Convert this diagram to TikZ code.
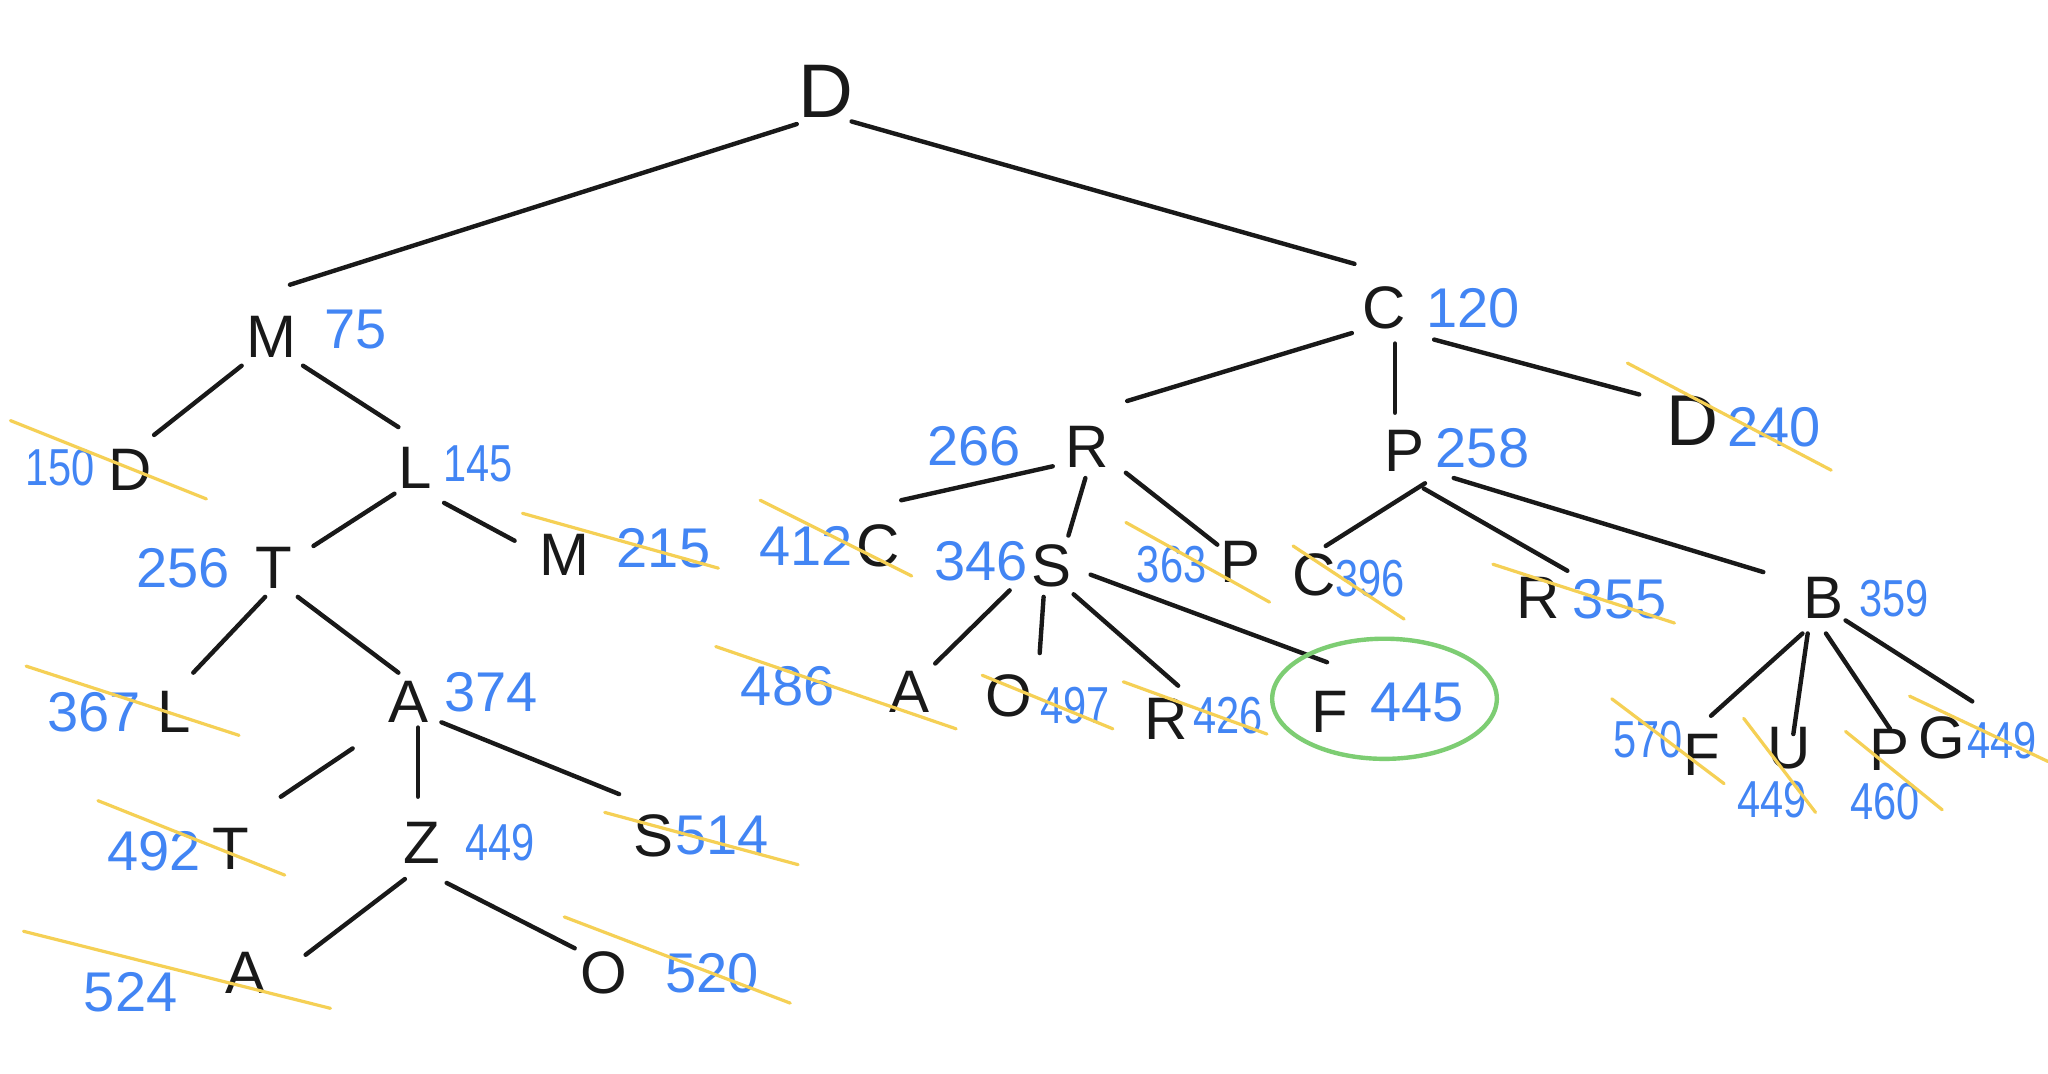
\documentclass[tikz,border=0pt]{standalone}
\usepackage{fontspec}
\setmainfont{Liberation Sans}
\newfontfamily\narrownum[FakeStretch=0.8]{Liberation Sans}
\definecolor{numblue}{RGB}{66,133,244}
\definecolor{strike}{RGB}{245,208,85}
\definecolor{circ}{RGB}{125,205,115}
\begin{document}
\begin{tikzpicture}[x=0.3266pt,y=-0.3266pt,
  let/.style={inner sep=0pt,font=\fontsize{15}{15}\selectfont,text=black!90},
  num/.style={inner sep=0pt,font=\fontsize{14}{14}\selectfont,text=numblue},
  smallnum/.style={inner sep=0pt,font=\narrownum\fontsize{13}{13}\selectfont,text=numblue},
  edge/.style={line width=1.1pt,black!90,line cap=round},
  cross/.style={line width=0.8pt,strike,line cap=round}]
\useasboundingbox (0,0) rectangle (1568,822);
\fill[white] (0,0) rectangle (1568,822);
% letters
\node[let] (D0) at (632,70) {\fontsize{19}{19}\selectfont D};
\node[let] (M1) at (208,258) {M};
\node[let] (C1) at (1060,236) {C};
\node[let] (D2) at (100,360) {D};
\node[let] (L2) at (318,358) {L};
\node[let] (R2) at (832,342) {R};
\node[let] (P2) at (1075,345) {P};
\node[let] (D2r) at (1296,322) {\fontsize{18}{18}\selectfont D};
\node[let] (T3) at (210,435) {T};
\node[let] (M3) at (432,425) {M};
\node[let] (C3) at (672,418) {C};
\node[let] (S3) at (805,433) {S};
\node[let] (P3) at (950,430) {P};
\node[let] (C3b) at (1006,440) {C};
\node[let] (R3) at (1178,458) {R};
\node[let] (B3) at (1396,458) {B};
\node[let] (L4) at (133,545) {L};
\node[let] (A4) at (313,537) {A};
\node[let] (A4s) at (696,530) {A};
\node[let] (O4) at (772,533) {O};
\node[let] (R4) at (893,550) {R};
\node[let] (F4) at (1018,545) {F};
\node[let] (F4b) at (1303,578) {F};
\node[let] (U4) at (1370,573) {U};
\node[let] (P4) at (1447,574) {P};
\node[let] (G4) at (1487,565) {G};
\node[let] (T5) at (177,650) {T};
\node[let] (Z5) at (323,645) {Z};
\node[let] (S5) at (500,640) {S};
\node[let] (A6) at (188,745) {A};
\node[let] (O6) at (462,745) {O};
% numbers
\node[num] (n75) at (272,252) {75};
\node[num] (n120) at (1128,236) {120};
\node[smallnum] (n150) at (46,358) {150};
\node[smallnum] (n145) at (366,355) {145};
\node[num] (n266) at (746,342) {266};
\node[num] (n258) at (1135,343) {258};
\node[num] (n240) at (1358,327) {240};
\node[num] (n256) at (140,435) {256};
\node[num] (n215) at (508,420) {215};
\node[num] (n412) at (617,418) {412};
\node[num] (n346) at (751,430) {346};
\node[smallnum] (n363) at (897,432) {363};
\node[smallnum] (n396) at (1049,443) {396};
\node[num] (n355) at (1240,459) {355};
\node[smallnum] (n359) at (1450,458) {359};
\node[num] (n367) at (72,545) {367};
\node[num] (n374) at (376,530) {374};
\node[num] (n486) at (603,525) {486};
\node[smallnum] (n497) at (823,540) {497};
\node[smallnum] (n426) at (940,548) {426};
\node[num] (n445) at (1085,538) {445};
\node[smallnum] (n570) at (1262,566) {570};
\node[smallnum] (n449u) at (1357,612) {449};
\node[smallnum] (n460) at (1443,614) {460};
\node[smallnum] (n449g) at (1533,567) {449};
\node[num] (n492) at (118,652) {492};
\node[smallnum] (n449z) at (383,645) {449};
\node[num] (n514) at (553,640) {514};
\node[num] (n524) at (100,760) {524};
\node[num] (n520) at (545,745) {520};
% edges
\draw[edge] ([shift={(-22,25)}]D0.center) -- ([shift={(14,-40)}]M1.center);
\draw[edge] ([shift={(20,23)}]D0.center) -- ([shift={(-23,-34)}]C1.center);
\draw[edge] ([shift={(-23,22)}]M1.center) -- ([shift={(18,-27)}]D2.center);
\draw[edge] ([shift={(24,22)}]M1.center) -- ([shift={(-13,-31)}]L2.center);
\draw[edge] ([shift={(-16,20)}]L2.center) -- ([shift={(30,-17)}]T3.center);
\draw[edge] ([shift={(22,27)}]L2.center) -- ([shift={(-38,-11)}]M3.center);
\draw[edge] ([shift={(-7,22)}]T3.center) -- ([shift={(15,-30)}]L4.center);
\draw[edge] ([shift={(18,22)}]T3.center) -- ([shift={(-8,-22)}]A4.center);
\draw[edge] ([shift={(-43,36)}]A4.center) -- ([shift={(38,-40)}]T5.center);
\draw[edge] ([shift={(7,20)}]A4.center) -- ([shift={(-3,-35)}]Z5.center);
\draw[edge] ([shift={(25,16)}]A4.center) -- ([shift={(-26,-32)}]S5.center);
\draw[edge] ([shift={(-13,28)}]Z5.center) -- ([shift={(46,-14)}]A6.center);
\draw[edge] ([shift={(19,31)}]Z5.center) -- ([shift={(-22,-19)}]O6.center);
\draw[edge] ([shift={(-25,19)}]C1.center) -- ([shift={(31,-35)}]R2.center);
\draw[edge] ([shift={(8,27)}]C1.center) -- ([shift={(-7,-29)}]P2.center);
\draw[edge] ([shift={(38,24)}]C1.center) -- ([shift={(-41,-20)}]D2r.center);
\draw[edge] ([shift={(-26,15)}]R2.center) -- ([shift={(18,-35)}]C3.center);
\draw[edge] ([shift={(-1,24)}]R2.center) -- ([shift={(13,-23)}]S3.center);
\draw[edge] ([shift={(30,20)}]R2.center) -- ([shift={(-18,-13)}]P3.center);
\draw[edge] ([shift={(-32,19)}]S3.center) -- ([shift={(20,-22)}]A4s.center);
\draw[edge] ([shift={(-6,24)}]S3.center) -- ([shift={(24,-33)}]O4.center);
\draw[edge] ([shift={(17,22)}]S3.center) -- ([shift={(9,-25)}]R4.center);
\draw[edge] ([shift={(30,7)}]S3.center) -- ([shift={(-2,-38)}]F4.center);
\draw[edge] ([shift={(16,25)}]P2.center) -- ([shift={(9,-22)}]C3b.center);
\draw[edge] ([shift={(15,29)}]P2.center) -- ([shift={(22,-21)}]R3.center);
\draw[edge] ([shift={(38,21)}]P2.center) -- ([shift={(-46,-20)}]B3.center);
\draw[edge] ([shift={(-16,27)}]B3.center) -- ([shift={(7,-30)}]F4b.center);
\draw[edge] ([shift={(-12,27)}]B3.center) -- ([shift={(3,-11)}]U4.center);
\draw[edge] ([shift={(2,27)}]B3.center) -- ([shift={(0,-16)}]P4.center);
\draw[edge] ([shift={(17,17)}]B3.center) -- ([shift={(23,-28)}]G4.center);
% strike-through lines
\draw[cross] (8,322) -- (158,382);
\draw[cross] (400,393) -- (550,435);
\draw[cross] (582,383) -- (698,441);
\draw[cross] (862,400) -- (972,461);
\draw[cross] (990,418) -- (1075,474);
\draw[cross] (1143,432) -- (1282,477);
\draw[cross] (1246,278) -- (1402,360);
\draw[cross] (20,510) -- (183,563);
\draw[cross] (548,495) -- (732,558);
\draw[cross] (752,517) -- (852,558);
\draw[cross] (860,522) -- (970,562);
\draw[cross] (1234,535) -- (1320,600);
\draw[cross] (1335,550) -- (1390,622);
\draw[cross] (1413,560) -- (1487,620);
\draw[cross] (1462,533) -- (1568,583);
\draw[cross] (75,613) -- (218,670);
\draw[cross] (463,622) -- (611,662);
\draw[cross] (18,713) -- (253,772);
\draw[cross] (432,702) -- (605,768);
% highlight
\draw[circ,line width=1.1pt] (1060,535) ellipse [x radius=86, y radius=46];
\end{tikzpicture}
\end{document}
